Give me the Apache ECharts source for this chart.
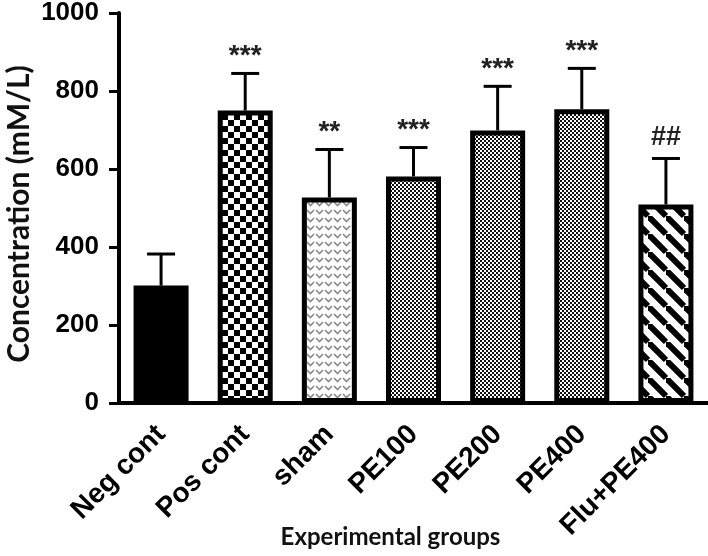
<!DOCTYPE html>
<html><head><meta charset="utf-8">
<script src="https://cdn.jsdelivr.net/npm/echarts@6/dist/echarts.min.js"></script>
<style>html,body{margin:0;padding:0;background:#fff}#c{width:708px;height:556px}</style>
</head><body><div id="c"></div>
<script>
// ---- data ----
const categories = ['Neg cont', 'Pos cont', 'sham', 'PE100', 'PE200', 'PE400', 'Flu+PE400'];
const means = [301, 750, 527, 581, 699, 753, 509];
const sdUpper = [81, 95, 123, 74, 113, 105, 118];
const marks = ['', '***', '**', '***', '***', '***', '##'];
const yTicks = [0, 200, 400, 600, 800, 1000];
const fills = ['solid', 'checker', 'chevron', 'dots', 'dots', 'dots', 'stripes'];

// ---- pattern tiles ----
function makeTile(kind) {
  const c = document.createElement('canvas');
  let ctx;
  if (kind === 'checker') {
    c.width = 12; c.height = 12; ctx = c.getContext('2d');
    ctx.fillStyle = '#fff'; ctx.fillRect(0, 0, 12, 12);
    ctx.fillStyle = '#000'; ctx.fillRect(0, 0, 6, 6); ctx.fillRect(6, 6, 6, 6);
  } else if (kind === 'chevron') {
    c.width = 9; c.height = 8; ctx = c.getContext('2d');
    ctx.fillStyle = '#fff'; ctx.fillRect(0, 0, 9, 8);
    ctx.strokeStyle = '#8a8a8a'; ctx.lineWidth = 1.6;
    ctx.beginPath(); ctx.moveTo(1, 2); ctx.lineTo(4.5, 5.5); ctx.lineTo(8, 2); ctx.stroke();
  } else if (kind === 'dots') {
    c.width = 4; c.height = 4; ctx = c.getContext('2d');
    ctx.fillStyle = '#fff'; ctx.fillRect(0, 0, 4, 4);
    ctx.fillStyle = '#111'; ctx.fillRect(0, 0, 2, 2); ctx.fillRect(2, 2, 2, 2);
  } else if (kind === 'stripes') {
    const s = 18;
    c.width = s; c.height = s; ctx = c.getContext('2d');
    ctx.fillStyle = '#fff'; ctx.fillRect(0, 0, s, s);
    ctx.strokeStyle = '#000'; ctx.lineWidth = 6;
    [[0, 0, s, s], [-s, 0, 0, s], [0, -s, s, 0]].forEach(l => {
      ctx.beginPath(); ctx.moveTo(l[0], l[1]); ctx.lineTo(l[2], l[3]); ctx.stroke();
    });
  }
  return c;
}
function fillFor(kind) {
  if (kind === 'solid') return '#000';
  return { image: makeTile(kind), repeat: 'repeat' };
}

const chart = echarts.init(document.getElementById('c'), null, { renderer: 'canvas' });
chart.setOption({
  animation: false,
  backgroundColor: '#fff',
  grid: { left: 119, right: 0, top: 13, bottom: 153, outerBoundsMode: 'none' },
  xAxis: {
    type: 'category',
    data: categories,
    axisLine: { lineStyle: { color: '#000', width: 4 } },
    axisTick: { alignWithLabel: true, length: 10, lineStyle: { color: '#000', width: 3 } },
    axisLabel: { interval: 0, rotate: 45, margin: 27, color: '#000', fontSize: 28, fontWeight: 'bold', fontFamily: 'Liberation Sans' },
    name: 'Experimental groups',
    nameLocation: 'middle',
    nameGap: 122,
    nameMoveOverlap: false,
    nameTextStyle: { color: '#111', fontSize: 24, fontWeight: 'bold', fontFamily: 'Lato', padding: [0, 46, 0, 0] }
  },
  yAxis: {
    type: 'value',
    min: yTicks[0], max: yTicks[yTicks.length - 1], interval: yTicks[1] - yTicks[0],
    splitLine: { show: false },
    axisLine: { show: true, lineStyle: { color: '#000', width: 4 } },
    axisTick: { show: true, length: 10, lineStyle: { color: '#000', width: 3 } },
    axisLabel: { margin: 20, color: '#000', fontSize: 26, fontWeight: 'bold', fontFamily: 'Liberation Sans', formatter: v => String(v) },
    name: 'Concentration (mM/L)',
    nameLocation: 'middle',
    nameGap: 85,
    nameMoveOverlap: false,
    nameRotate: 90,
    nameTextStyle: { color: '#111', fontSize: 30, fontWeight: 'bold', fontFamily: 'Lato', padding: [0, 12, 0, 0] }
  },
  series: [
    {
      type: 'bar',
      barWidth: 55,
      data: means.map((v, i) => ({
        value: v,
        itemStyle: { color: fillFor(fills[i]), borderColor: '#000', borderWidth: 5 }
      }))
    },
    {
      type: 'custom',
      data: means.map((v, i) => [i, v, v + sdUpper[i]]),
      z: 5,
      renderItem: function (params, api) {
        const i = api.value(0);
        const base = api.coord([i, api.value(1)]);
        const top = api.coord([i, api.value(2)]);
        const hw = 14;
        const children = [
          { type: 'line', shape: { x1: top[0], y1: base[1], x2: top[0], y2: top[1] }, style: { stroke: '#000', lineWidth: 3 } },
          { type: 'line', shape: { x1: top[0] - hw, y1: top[1], x2: top[0] + hw, y2: top[1] }, style: { stroke: '#000', lineWidth: 3 } }
        ];
        const m = marks[params.dataIndex];
        if (m) {
          const isHash = m.indexOf('#') >= 0;
          children.push({
            type: 'text',
            x: top[0], y: top[1] - (isHash ? 21 : 17),
            style: {
              text: m,
              fill: '#222',
              font: isHash ? 'bold 27px "Liberation Sans"' : 'bold 28px "Liberation Sans"',
              align: 'center',
              verticalAlign: 'middle'
            }
          });
        }
        return { type: 'group', children: children };
      }
    }
  ]
});
</script>
</body></html>
